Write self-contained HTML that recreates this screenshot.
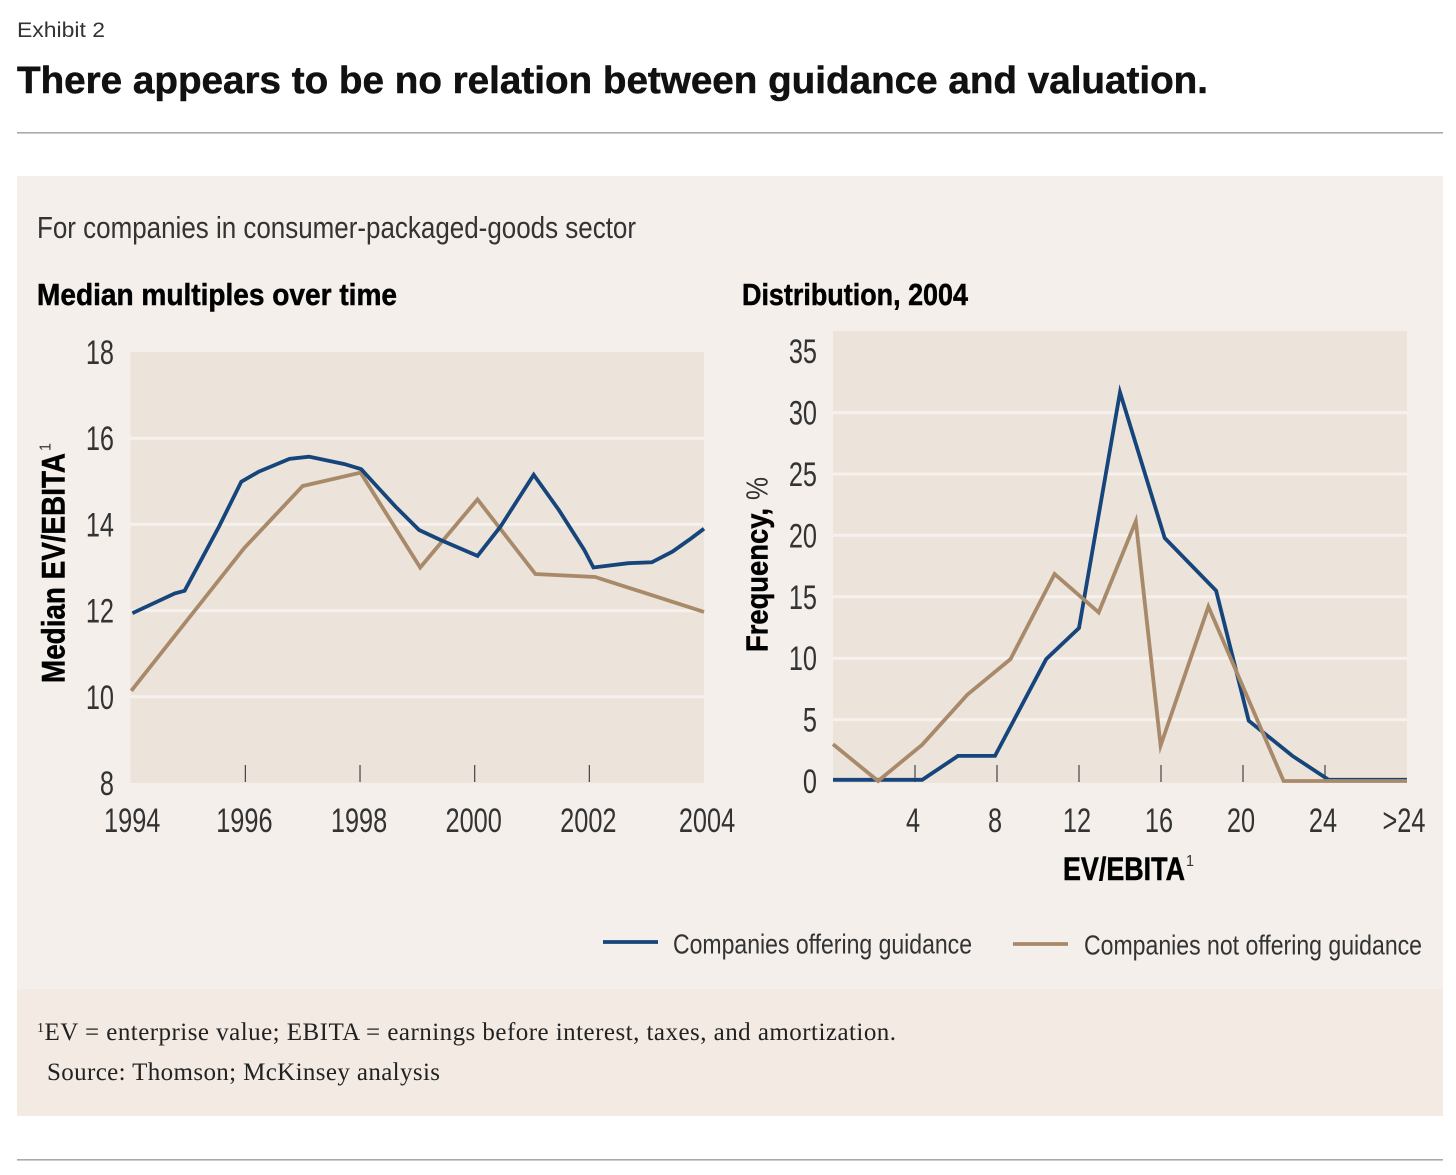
<!DOCTYPE html>
<html lang="en">
<head>
<meta charset="utf-8">
<title>Exhibit 2</title>
<style>
html,body{margin:0;padding:0;background:#fff;}
svg{display:block;}
text{font-family:"Liberation Sans",sans-serif;}
.serif{font-family:"Liberation Serif",serif;}
</style>
</head>
<body>
<svg id="page" xmlns="http://www.w3.org/2000/svg" width="1456" height="1175" viewBox="0 0 1456 1175">
  <rect x="0" y="0" width="1456" height="1175" fill="#ffffff"/>
  <text x="17" y="37" font-size="21" fill="#333" textLength="88" lengthAdjust="spacingAndGlyphs">Exhibit 2</text>
  <text x="17" y="93" font-size="38" font-weight="700" fill="#111" stroke="#111" stroke-width="0.5" textLength="1191" lengthAdjust="spacingAndGlyphs">There appears to be no relation between guidance and valuation.</text>
  <rect x="17" y="132" width="1426" height="1.6" fill="#a9a9a9"/>
  <rect x="17" y="176" width="1426" height="813" fill="#f4efea"/>
  <rect x="17" y="989" width="1426" height="127" fill="#f3ebe3"/>
  <rect x="17" y="1159" width="1426" height="1.6" fill="#a9a9a9"/>

  <text x="37" y="238" font-size="31" fill="#333" textLength="599" lengthAdjust="spacingAndGlyphs">For companies in consumer-packaged-goods sector</text>
  <text x="37" y="305" font-size="31" font-weight="700" fill="#000" stroke="#000" stroke-width="0.5" textLength="360" lengthAdjust="spacingAndGlyphs">Median multiples over time</text>
  <text x="742" y="305" font-size="31" font-weight="700" fill="#000" stroke="#000" stroke-width="0.5" textLength="226" lengthAdjust="spacingAndGlyphs">Distribution, 2004</text>

  <rect x="130.5" y="352" width="573.5" height="431" fill="#ece3da"/>
  <rect x="833" y="331" width="574" height="452" fill="#ece3da"/>

  <g id="left-chart"></g>
  <g id="right-chart"></g>

  <g transform="translate(64.5,683) rotate(-90)">
    <text x="0" y="0" font-size="32" font-weight="700" fill="#000" stroke="#000" stroke-width="0.5" textLength="230" lengthAdjust="spacingAndGlyphs">Median EV/EBITA</text>
    <text x="232" y="-14" font-size="16" fill="#333" textLength="8" lengthAdjust="spacingAndGlyphs">1</text>
  </g>
  <g transform="translate(767.5,652) rotate(-90)">
    <text x="0" y="0" font-size="31" font-weight="700" fill="#000" stroke="#000" stroke-width="0.5" textLength="144" lengthAdjust="spacingAndGlyphs">Frequency,</text>
    <text x="152" y="0" font-size="31" fill="#333" textLength="23" lengthAdjust="spacingAndGlyphs">%</text>
  </g>
  <text x="1063" y="880" font-size="32" font-weight="700" fill="#000" stroke="#000" stroke-width="0.5" textLength="122" lengthAdjust="spacingAndGlyphs">EV/EBITA</text>
  <text x="1186" y="866" font-size="16" fill="#333" textLength="8" lengthAdjust="spacingAndGlyphs">1</text>

  <g>
    <line x1="603" y1="942" x2="658" y2="942" stroke="#15457a" stroke-width="3.8"/>
    <text x="673" y="953.5" font-size="28" fill="#333" textLength="299" lengthAdjust="spacingAndGlyphs">Companies offering guidance</text>
    <line x1="1013" y1="944" x2="1068" y2="944" stroke="#a88a6a" stroke-width="3.8"/>
    <text x="1084" y="954.5" font-size="28" fill="#333" textLength="338" lengthAdjust="spacingAndGlyphs">Companies not offering guidance</text>
  </g>

  <text class="serif" x="37" y="1040" font-size="25" fill="#222" textLength="859" lengthAdjust="spacing"><tspan font-size="14" dy="-8">1</tspan><tspan dy="8">EV = enterprise value; EBITA = earnings before interest, taxes, and amortization.</tspan></text>
  <text class="serif" x="47" y="1080" font-size="25" fill="#222" textLength="393" lengthAdjust="spacing">Source: Thomson; McKinsey analysis</text>
</svg>

<script>
// Left chart: median EV/EBITA over time
const leftYTicks = [8, 10, 12, 14, 16, 18];
const leftGridValues = [10, 12, 14, 16];
const leftXTicks = [1994, 1996, 1998, 2000, 2002, 2004];
const leftTickMarks = [1996, 1998, 2000, 2002];
const guidanceYears = [1994.03, 1994.77, 1994.94, 1995.29, 1995.54, 1995.93, 1996.23, 1996.77, 1997.11, 1997.73, 1998.02, 1998.62, 1999.03, 1999.40, 2000.05, 2000.45, 2001.03, 2001.47, 2001.91, 2002.07, 2002.68, 2003.09, 2003.45, 2003.78, 2004];
const guidanceMultiples = [11.94, 12.40, 12.46, 13.33, 13.95, 14.99, 15.22, 15.52, 15.57, 15.40, 15.28, 14.41, 13.87, 13.64, 13.27, 13.95, 15.15, 14.33, 13.41, 13.00, 13.10, 13.12, 13.37, 13.68, 13.90];
const noGuidanceYears = [1994.01, 1995.98, 1997.0, 1998.01, 1999.05, 2000.05, 2001.06, 2002.10, 2004];
const noGuidanceMultiples = [10.14, 13.45, 14.89, 15.2, 13.0, 14.58, 12.85, 12.78, 11.97];

// Right chart: frequency distribution, 2004
const rightYTicks = [0, 5, 10, 15, 20, 25, 30, 35];
const rightGridValues = [5, 10, 15, 20, 25, 30];
const rightXTicks = [4, 8, 12, 16, 20, 24];
const rightOverflowLabel = '>24';
const guidanceBins = [0, 4.35, 6.1, 7.9, 10.4, 12.0, 14.0, 16.18, 18.69, 20.28, 22.41, 24.18, 28];
const guidanceFrequency = [0.1, 0.1, 2.04, 2.04, 9.93, 12.46, 31.65, 19.79, 15.5, 4.91, 2.04, 0.1, 0.1];
const noGuidanceBins = [0, 2.2, 4.35, 6.55, 8.66, 10.81, 12.96, 14.77, 15.98, 18.31, 21.98, 28];
const noGuidanceFrequency = [3, 0, 2.96, 7.03, 9.93, 16.86, 13.73, 21.15, 2.88, 14.2, 0, 0];

const NS = 'http://www.w3.org/2000/svg';
const BLUE = '#15457a';
const BROWN = '#a88a6a';
const GRID = '#f6f1ec';
const INK = '#333333';

// Axis functions
const leftX = function (year) { return 130.7 + (year - 1994) * 57.33; };
const leftY = function (value) { return 783 - (value - 8) * 43.1; };
const rightX = function (bin) { return 833 + bin * 20.5; };
const rightY = function (freq) { return 781 - freq * 12.28; };

function make(tag, parent) {
  const el = document.createElementNS(NS, tag);
  parent.appendChild(el);
  return el;
}

function setAll(el, attrs) {
  Object.keys(attrs).forEach(function (k) { el.setAttribute(k, attrs[k]); });
}

function gridLine(parent, x1, x2, y) {
  const el = make('line', parent);
  
  
  setAll(el, { x1: x1, x2: x2, y1: y, y2: y, stroke: GRID, 'stroke-width': 3 });
}

function tickMark(parent, x) {
  const el = make('line', parent);
  
  
  setAll(el, { x1: x, x2: x, y1: 765, y2: 782, stroke: '#444', 'stroke-width': 1.2 });
}

// Condensed tick label: anchored text squeezed horizontally around its anchor point
function tickLabel(parent, str, x, y, anchor, name) {
  const el = make('text', parent);
  
  
  setAll(el, {
    x: 0, y: 0,
    'font-size': 34,
    fill: INK,
    'text-anchor': anchor,
    transform: 'translate(' + x + ',' + y + ') scale(0.745,1)'
  });
  el.textContent = String(str);
}

function seriesLine(parent, xs, ys, xFn, yFn, color, name) {
  const el = make('polyline', parent);
  
  
  const pts = xs.map(function (v, i) {
    return xFn(v).toFixed(1) + ',' + yFn(ys[i]).toFixed(1);
  }).join(' ');
  setAll(el, { points: pts, fill: 'none', stroke: color, 'stroke-width': 3.8, 'stroke-linejoin': 'miter', 'stroke-miterlimit': 6 });
}

// Left chart
const leftGroup = document.getElementById('left-chart');
leftGridValues.forEach(function (v) { gridLine(leftGroup, 130.5, 704, leftY(v)); });
leftTickMarks.forEach(function (y) { tickMark(leftGroup, leftX(y)); });
leftYTicks.forEach(function (v) { tickLabel(leftGroup, v, 114, leftY(v) + 12, 'end', 'left-y-tick-label'); });
leftXTicks.forEach(function (y) {
  const shift = y === 2004 ? 3 : (y === 1994 ? 1.5 : -1);
  tickLabel(leftGroup, y, leftX(y) + shift, 832, 'middle', 'left-x-tick-label');
});
seriesLine(leftGroup, noGuidanceYears, noGuidanceMultiples, leftX, leftY, BROWN, 'left-line-not-offering-guidance');
seriesLine(leftGroup, guidanceYears, guidanceMultiples, leftX, leftY, BLUE, 'left-line-offering-guidance');

// Right chart
const rightGroup = document.getElementById('right-chart');
rightGridValues.forEach(function (v) { gridLine(rightGroup, 833, 1407, rightY(v)); });
rightXTicks.forEach(function (b) { tickMark(rightGroup, rightX(b)); });
rightYTicks.forEach(function (v) { tickLabel(rightGroup, v, 817, rightY(v) + 12, 'end', 'right-y-tick-label'); });
rightXTicks.forEach(function (b) { tickLabel(rightGroup, b, rightX(b) - 2, 832, 'middle', 'right-x-tick-label'); });
tickLabel(rightGroup, rightOverflowLabel, rightX(27.85), 832, 'middle', 'right-x-tick-label-overflow');
seriesLine(rightGroup, guidanceBins, guidanceFrequency, rightX, rightY, BLUE, 'right-line-offering-guidance');
seriesLine(rightGroup, noGuidanceBins, noGuidanceFrequency, rightX, rightY, BROWN, 'right-line-not-offering-guidance');
</script>
</body>
</html>
